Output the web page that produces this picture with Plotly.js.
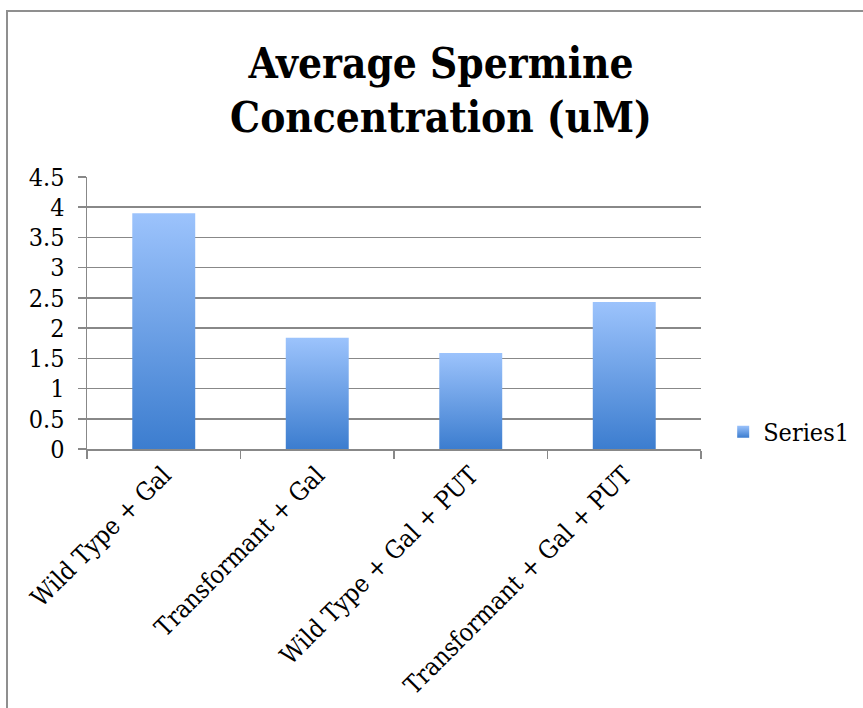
<!DOCTYPE html>
<html>
<head>
<meta charset="utf-8">
<script src="https://cdn.plot.ly/plotly-3.0.1.min.js"></script>
<style>
html,body{margin:0;padding:0;background:#fff;overflow:hidden;}
#frame{position:absolute;left:6px;top:10px;width:900px;height:760px;border-left:2px solid #8f8f8f;border-top:2px solid #8f8f8f;}
#chart{position:absolute;left:0;top:0;width:863px;height:708px;}
</style>
</head>
<body>
<div id="frame"></div>
<div id="chart"></div>
<script>
const categories = ["Wild Type + Gal", "Transformant + Gal", "Wild Type + Gal + PUT", "Transformant + Gal + PUT"];
const values = [3.9, 1.84, 1.59, 2.43];
const seriesName = "Series1";
const titleText = "Average Spermine<br>Concentration (uM)";

const fontFam = "DejaVu Serif Condensed, DejaVu Serif, serif";
const trace = {
  type: "bar",
  x: categories,
  y: values,
  name: seriesName,
  marker: {color: "#6c9ee6", line: {width: 0}},
  showlegend: true
};
const layout = {
  width: 863, height: 708,
  paper_bgcolor: "rgba(0,0,0,0)",
  plot_bgcolor: "rgba(0,0,0,0)",
  margin: {l: 87, r: 162, t: 177, b: 259},
  bargap: 0.59,
  font: {family: fontFam, color: "#000", size: 25},
  title: {
    text: titleText,
    font: {family: fontFam, size: 42, color: "#000", weight: "bold"},
    xref: "container", x: 0.511, xanchor: "center",
    yref: "container", y: 0.89, yanchor: "middle"
  },
  xaxis: {
    type: "category",
    tickangle: -45,
    tickson: "boundaries",
    ticks: "outside", ticklen: 8, tickcolor: "#888", tickwidth: 1.5,
    showline: true, linecolor: "#888", linewidth: 1.5,
    showgrid: false,
    tickfont: {family: fontFam, size: 25, color: "#000"}
  },
  yaxis: {
    range: [0, 4.5], dtick: 0.5, tick0: 0,
    ticks: "outside", ticklen: 8, tickcolor: "#888", tickwidth: 1.5,
    showline: true, linecolor: "#888", linewidth: 1.5,
    showgrid: true, gridcolor: "#888", gridwidth: 1.5,
    zeroline: false,
    ticklabelstandoff: 8,
    tickfont: {family: fontFam, size: 25, color: "#000"}
  },
  legend: {
    xref: "container", yref: "container",
    x: 0.838, xanchor: "left", y: 0.39, yanchor: "middle",
    itemwidth: 30,
    font: {family: fontFam, size: 25, color: "#000"},
    bgcolor: "rgba(0,0,0,0)"
  }
};
Plotly.newPlot("chart", [trace], layout, {displayModeBar: false, staticPlot: true}).then(function(gd){
  const svg = gd.querySelector("svg.main-svg");
  const ns = "http://www.w3.org/2000/svg";
  let defs = svg.querySelector("defs");
  if (!defs) { defs = document.createElementNS(ns, "defs"); svg.insertBefore(defs, svg.firstChild); }
  const g = document.createElementNS(ns, "linearGradient");
  g.setAttribute("id", "barGrad");
  g.setAttribute("x1", "0"); g.setAttribute("y1", "0");
  g.setAttribute("x2", "0"); g.setAttribute("y2", "1");
  const s1 = document.createElementNS(ns, "stop");
  s1.setAttribute("offset", "0"); s1.setAttribute("stop-color", "#9cc3fc");
  const s2 = document.createElementNS(ns, "stop");
  s2.setAttribute("offset", "1"); s2.setAttribute("stop-color", "#3c7dcf");
  g.appendChild(s1); g.appendChild(s2); defs.appendChild(g);
  gd.querySelectorAll(".bars path, .legendpoints path").forEach(function(p){
    p.style.fill = "url(#barGrad)";
  });
});
</script>
</body>
</html>
